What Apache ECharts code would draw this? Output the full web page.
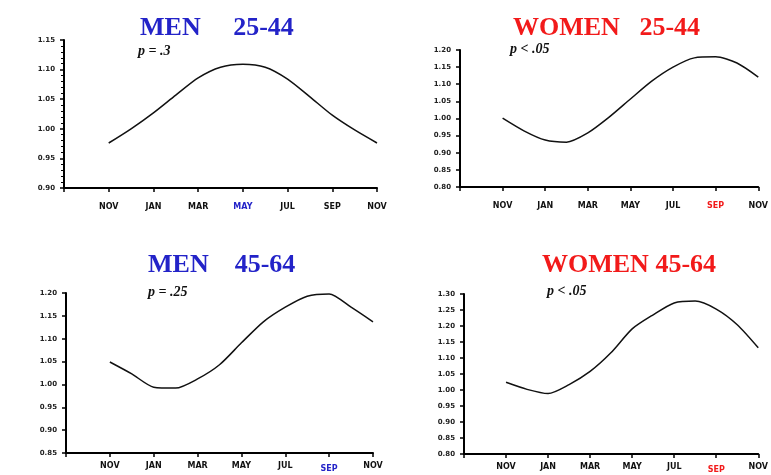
<!DOCTYPE html>
<html><head><meta charset="utf-8">
<script src="https://cdn.jsdelivr.net/npm/echarts@6/dist/echarts.min.js"></script>
<style>html,body{margin:0;padding:0;background:#fff}#c{width:771px;height:475px}</style>
</head><body><div id="c"></div>
<script>
// months at the x ticks (every two months, NOV to NOV)
const tickMonths = ['NOV', 'JAN', 'MAR', 'MAY', 'JUL', 'SEP', 'NOV'];
// month index of every curve point (0 = NOV ... 12 = next NOV)
const monthIndex = [0, 1, 2, 3, 4, 5, 6, 7, 8, 9, 10, 11, 12];
// seasonal curves (relative level)
const menYoung   = [0.976, 1.000, 1.027, 1.057, 1.086, 1.104, 1.109, 1.104, 1.084, 1.054, 1.023, 0.998, 0.976];
const womenYoung = [1.001, 0.964, 0.937, 0.931, 0.958, 1.004, 1.057, 1.109, 1.150, 1.177, 1.180, 1.162, 1.121];
const menOld     = [1.049, 1.023, 0.994, 0.992, 1.012, 1.043, 1.091, 1.137, 1.169, 1.193, 1.198, 1.169, 1.137];
const womenOld   = [1.024, 1.002, 0.989, 1.017, 1.058, 1.117, 1.191, 1.235, 1.272, 1.278, 1.253, 1.204, 1.132];
// panel titles and p values
const titles  = ['MEN     25-44', 'WOMEN   25-44', 'MEN    45-64', 'WOMEN 45-64'];
const pValues = ['p = .3', 'p < .05', 'p = .25', 'p < .05'];
// which tick month is highlighted in each panel
const highlight = [3, 5, 5, 5];
// y axis ranges (min, max, step)
const yMin  = [0.90, 0.80, 0.85, 0.80];
const yMax  = [1.15, 1.20, 1.20, 1.30];
const yStep = [0.05, 0.05, 0.05, 0.05];

const BLUE = '#2323c8', RED = '#f21a1a';
const colors = [BLUE, RED, BLUE, RED];
const seriesData = [menYoung, womenYoung, menOld, womenOld];

const grids = [
  {left: 64, top: 40, right: 394, bottom: 287},
  {left: 460, top: 50, right: 4, bottom: 288},
  {left: 66, top: 293, right: 398, bottom: 22},
  {left: 464, top: 294, right: 0, bottom: 21}
];
const titlePos = [[140, 15], [513, 15], [148, 252], [542, 252]];
const pPos = [[138, 44], [510, 42], [148, 285], [547, 284]];
const xMargins = [15, 15, 9, 9];
const hiPad = [0, 0, 3, 3];

const option = {
  animation: false,
  backgroundColor: '#fff',
  title: titles.map((t, i) => ({
    text: t, left: titlePos[i][0], top: titlePos[i][1], padding: 0,
    textStyle: {fontFamily: 'Liberation Serif', fontWeight: 'bold', fontSize: 26, color: colors[i]}
  })),
  graphic: pValues.map((p, i) => ({
    type: 'text', left: pPos[i][0], top: pPos[i][1],
    style: {text: p, font: 'italic bold 14px "Liberation Serif"', fill: '#111'}
  })),
  grid: grids,
  xAxis: grids.map((g, i) => ({
    type: 'value', gridIndex: i, min: -2, max: 12, interval: 2,
    splitLine: {show: false},
    axisLine: {show: true, onZero: false, lineStyle: {color: '#000', width: 2}},
    axisTick: {show: true, length: 4, lineStyle: {color: '#000', width: 1.5}},
    axisLabel: {
      margin: xMargins[i], fontSize: 8, fontWeight: 'bold', color: '#111',
      fontFamily: 'DejaVu Sans',
      formatter: v => {
        if (v < 0) return '';
        const k = Math.round(v / 2);
        return k === highlight[i] ? '{h|' + tickMonths[k] + '}' : tickMonths[k];
      },
      rich: {h: {color: colors[i], fontSize: 8, fontWeight: 'bold', fontFamily: 'DejaVu Sans', padding: [hiPad[i], 0, 0, 0]}}
    }
  })),
  yAxis: grids.map((g, i) => ({
    type: 'value', gridIndex: i, min: yMin[i], max: yMax[i], interval: yStep[i],
    splitLine: {show: false},
    axisLine: {show: true, onZero: false, lineStyle: {color: '#000', width: 2}},
    axisTick: {show: true, length: 4, lineStyle: {color: '#000', width: 1.5}},
    minorTick: {show: i === 0, splitNumber: 5, length: 3, lineStyle: {color: '#000', width: 1}},
    axisLabel: {
      margin: 9, fontSize: 7, fontWeight: 'bold', color: '#222', fontFamily: 'DejaVu Sans',
      formatter: v => v.toFixed(2)
    }
  })),
  series: seriesData.map((d, i) => ({
    type: 'line', xAxisIndex: i, yAxisIndex: i, smooth: 0.25, showSymbol: false,
    lineStyle: {color: '#111', width: 1.5},
    data: monthIndex.map((m, j) => [m, d[j]])
  }))
};
echarts.init(document.getElementById('c')).setOption(option);
</script></body></html>
